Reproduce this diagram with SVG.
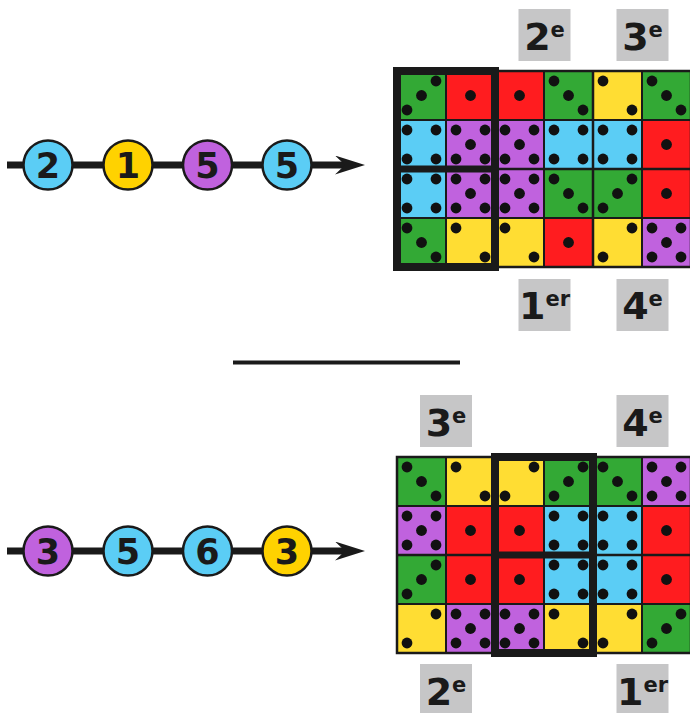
<svg xmlns="http://www.w3.org/2000/svg" xmlns:xlink="http://www.w3.org/1999/xlink" width="690" height="713" viewBox="0 0 690 713">
<style>
.dot{fill:#111}
.g{fill:#33a935}.r{fill:#ff1c1f}.y{fill:#ffdd33}.b{fill:#5bcdf5}.p{fill:#c062de}
.gl{fill:none;stroke:#1a1a1a;stroke-width:2}
.frame{fill:none;stroke:#1a1a1a;stroke-width:8}
.lbl{fill:#c6c6c7}
.lt{font-family:"DejaVu Sans",Verdana,sans-serif;font-weight:bold;font-size:38px;fill:#1a1a1a;text-anchor:middle}
.sup{font-size:21px}
.node circle{stroke:#1a1a1a;stroke-width:2.5}
.node text{font-family:"DejaVu Sans",Verdana,sans-serif;font-weight:bold;font-size:35px;fill:#1a1a1a;text-anchor:middle}
.chain{stroke:#1a1a1a;stroke-width:7;fill:none}
.cb{fill:#5bcdf5}.cy{fill:#ffd200}.cp{fill:#c062de}
</style>
<defs>
<marker id="arr" markerUnits="userSpaceOnUse" viewBox="0 0 30 19" refX="10" refY="9.5" markerWidth="30" markerHeight="19" orient="auto">
<path d="M0,0 L30,9.5 L0,19 L10,9.5 Z" fill="#1a1a1a"/>
</marker>
<g id="d1"><rect class="r" width="49" height="49"/><circle class="dot" cx="24.5" cy="24.5" r="5.4"/></g>
<g id="d2a"><rect class="y" width="49" height="49"/><circle class="dot" cx="10" cy="10" r="5.4"/><circle class="dot" cx="39" cy="39" r="5.4"/></g>
<g id="d2b"><rect class="y" width="49" height="49"/><circle class="dot" cx="39" cy="10" r="5.4"/><circle class="dot" cx="10" cy="39" r="5.4"/></g>
<g id="d3a"><rect class="g" width="49" height="49"/><circle class="dot" cx="10" cy="10" r="5.4"/><circle class="dot" cx="24.5" cy="24.5" r="5.4"/><circle class="dot" cx="39" cy="39" r="5.4"/></g>
<g id="d3b"><rect class="g" width="49" height="49"/><circle class="dot" cx="39" cy="10" r="5.4"/><circle class="dot" cx="24.5" cy="24.5" r="5.4"/><circle class="dot" cx="10" cy="39" r="5.4"/></g>
<g id="d4"><rect class="b" width="49" height="49"/><circle class="dot" cx="10" cy="10" r="5.4"/><circle class="dot" cx="39" cy="10" r="5.4"/><circle class="dot" cx="10" cy="39" r="5.4"/><circle class="dot" cx="39" cy="39" r="5.4"/></g>
<g id="d5"><rect class="p" width="49" height="49"/><circle class="dot" cx="10" cy="10" r="5.4"/><circle class="dot" cx="39" cy="10" r="5.4"/><circle class="dot" cx="24.5" cy="24.5" r="5.4"/><circle class="dot" cx="10" cy="39" r="5.4"/><circle class="dot" cx="39" cy="39" r="5.4"/></g>
<g id="gridlines">
<path class="gl" d="M49,0V196M98,0V196M147,0V196M196,0V196M245,0V196M0,49H294M0,98H294M0,147H294"/>
<path class="gl" style="stroke-width:2.5" d="M0,98H294M98,0V196M196,0V196"/>
<rect class="gl" style="stroke-width:2.5" x="0" y="0" width="294" height="196"/>
</g>
</defs>

<rect width="690" height="713" fill="#fff"/>

<g id="connectors">
<line class="chain" x1="7" y1="165" x2="345" y2="165" marker-end="url(#arr)"/>
<line class="chain" x1="7" y1="551" x2="345" y2="551" marker-end="url(#arr)"/>
<line x1="233" y1="362.5" x2="460" y2="362.5" stroke="#1a1a1a" stroke-width="4"/>
</g>

<g id="n-top-1" class="node"><circle class="cb" cx="48" cy="165" r="24.5"/><text x="48" y="178">2</text></g>
<g id="n-top-2" class="node"><circle class="cy" cx="128" cy="165" r="24.5"/><text x="128" y="178">1</text></g>
<g id="n-top-3" class="node"><circle class="cp" cx="207.5" cy="165" r="24.5"/><text x="207.5" y="178">5</text></g>
<g id="n-top-4" class="node"><circle class="cb" cx="287" cy="165" r="24.5"/><text x="287" y="178">5</text></g>

<g id="n-bot-1" class="node"><circle class="cp" cx="48" cy="551" r="24.5"/><text x="48" y="564">3</text></g>
<g id="n-bot-2" class="node"><circle class="cb" cx="128" cy="551" r="24.5"/><text x="128" y="564">5</text></g>
<g id="n-bot-3" class="node"><circle class="cb" cx="207.5" cy="551" r="24.5"/><text x="207.5" y="564">6</text></g>
<g id="n-bot-4" class="node"><circle class="cy" cx="287" cy="551" r="24.5"/><text x="287" y="564">3</text></g>

<g id="grid-top" transform="translate(397,71)">
<use href="#d3b" x="0" y="0"/><use href="#d1" x="49" y="0"/><use href="#d1" x="98" y="0"/><use href="#d3a" x="147" y="0"/><use href="#d2a" x="196" y="0"/><use href="#d3a" x="245" y="0"/>
<use href="#d4" x="0" y="49"/><use href="#d5" x="49" y="49"/><use href="#d5" x="98" y="49"/><use href="#d4" x="147" y="49"/><use href="#d4" x="196" y="49"/><use href="#d1" x="245" y="49"/>
<use href="#d4" x="0" y="98"/><use href="#d5" x="49" y="98"/><use href="#d5" x="98" y="98"/><use href="#d3a" x="147" y="98"/><use href="#d3b" x="196" y="98"/><use href="#d1" x="245" y="98"/>
<use href="#d3a" x="0" y="147"/><use href="#d2a" x="49" y="147"/><use href="#d2a" x="98" y="147"/><use href="#d1" x="147" y="147"/><use href="#d2b" x="196" y="147"/><use href="#d5" x="245" y="147"/>
<use href="#gridlines"/>
<rect class="frame" x="0" y="0" width="98" height="196"/>
<line x1="0" y1="98" x2="98" y2="98" stroke="#1a1a1a" stroke-width="7"/>
</g>

<g id="grid-bottom" transform="translate(397,457)">
<use href="#d3a" x="0" y="0"/><use href="#d2a" x="49" y="0"/><use href="#d2b" x="98" y="0"/><use href="#d3b" x="147" y="0"/><use href="#d3a" x="196" y="0"/><use href="#d5" x="245" y="0"/>
<use href="#d5" x="0" y="49"/><use href="#d1" x="49" y="49"/><use href="#d1" x="98" y="49"/><use href="#d4" x="147" y="49"/><use href="#d4" x="196" y="49"/><use href="#d1" x="245" y="49"/>
<use href="#d3b" x="0" y="98"/><use href="#d1" x="49" y="98"/><use href="#d1" x="98" y="98"/><use href="#d4" x="147" y="98"/><use href="#d4" x="196" y="98"/><use href="#d1" x="245" y="98"/>
<use href="#d2b" x="0" y="147"/><use href="#d5" x="49" y="147"/><use href="#d5" x="98" y="147"/><use href="#d2a" x="147" y="147"/><use href="#d2b" x="196" y="147"/><use href="#d3b" x="245" y="147"/>
<use href="#gridlines"/>
<rect class="frame" x="98" y="0" width="98" height="196"/>
<line x1="98" y1="98" x2="196" y2="98" stroke="#1a1a1a" stroke-width="7"/>
</g>

<g id="lbl-top-2e"><rect class="lbl" x="518.5" y="9" width="52" height="52"/><text class="lt" x="544.5" y="50">2<tspan class="sup" dy="-13">e</tspan></text></g>
<g id="lbl-top-3e"><rect class="lbl" x="616.5" y="9" width="52" height="52"/><text class="lt" x="642.5" y="50">3<tspan class="sup" dy="-13">e</tspan></text></g>
<g id="lbl-top-1er"><rect class="lbl" x="518.5" y="279" width="52" height="52"/><text class="lt" x="544.5" y="319">1<tspan class="sup" dy="-13">er</tspan></text></g>
<g id="lbl-top-4e"><rect class="lbl" x="616.5" y="279" width="52" height="52"/><text class="lt" x="642.5" y="319">4<tspan class="sup" dy="-13">e</tspan></text></g>

<g id="lbl-bot-3e"><rect class="lbl" x="420" y="395" width="52" height="52"/><text class="lt" x="446" y="436">3<tspan class="sup" dy="-13">e</tspan></text></g>
<g id="lbl-bot-4e"><rect class="lbl" x="616.5" y="395" width="52" height="52"/><text class="lt" x="642.5" y="436">4<tspan class="sup" dy="-13">e</tspan></text></g>
<g id="lbl-bot-2e"><rect class="lbl" x="420" y="664" width="52" height="52"/><text class="lt" x="446" y="705">2<tspan class="sup" dy="-13">e</tspan></text></g>
<g id="lbl-bot-1er"><rect class="lbl" x="616.5" y="664" width="52" height="52"/><text class="lt" x="642.5" y="705">1<tspan class="sup" dy="-13">er</tspan></text></g>
</svg>
